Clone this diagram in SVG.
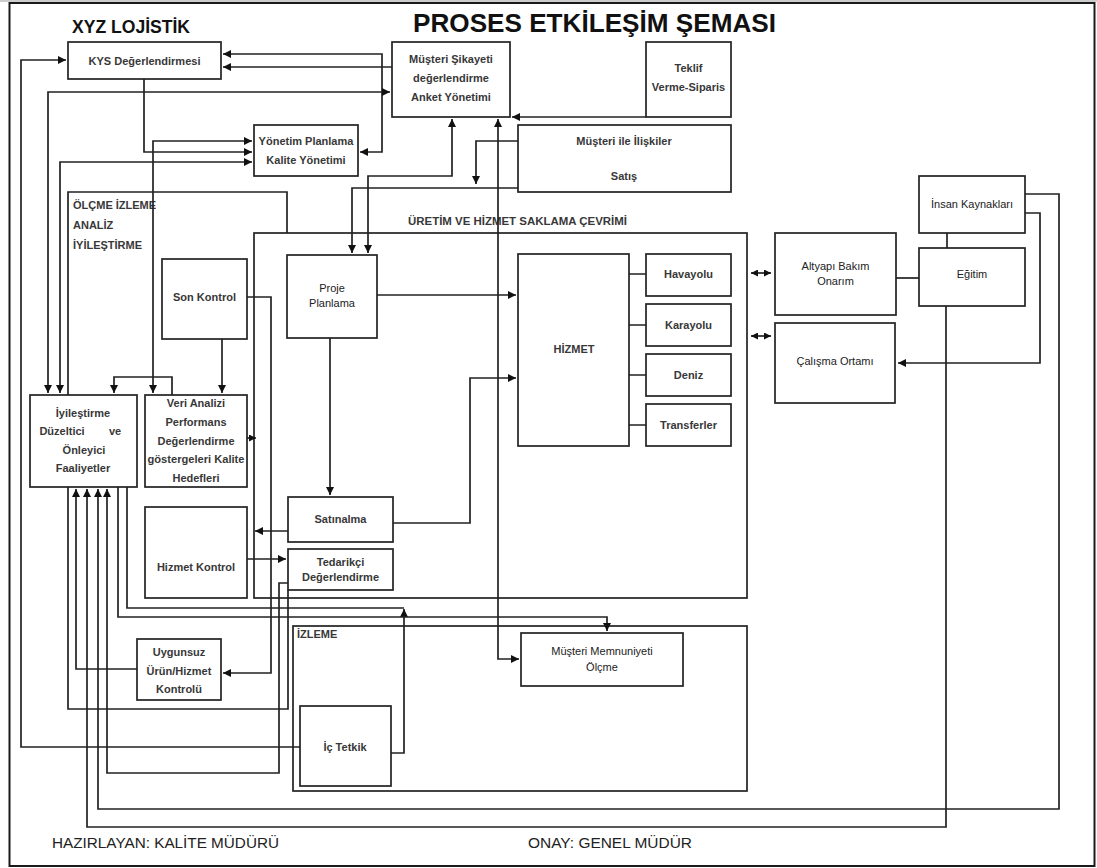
<svg xmlns="http://www.w3.org/2000/svg" width="1097" height="868" viewBox="0 0 1097 868">
  <defs>
    <style>
      .frame{fill:none;stroke:#1a1a1a;stroke-width:2}
      .box{fill:#fff;stroke:#222;stroke-width:1.7}
      .open{fill:none;stroke:#222;stroke-width:1.7}
      .ln{fill:none;stroke:#222;stroke-width:1.7}
      .t{font-family:"Liberation Sans",Arial,sans-serif;font-size:11px;fill:#222;text-anchor:middle}
      .tb{font-family:"Liberation Sans",Arial,sans-serif;font-size:11px;font-weight:bold;fill:#383838;text-anchor:middle}
      .lab{font-family:"Liberation Sans",Arial,sans-serif;font-size:11px;font-weight:bold;fill:#383838}
      .title{font-family:"Liberation Sans",Arial,sans-serif;font-weight:bold;fill:#111}
      .foot{font-family:"Liberation Sans",Arial,sans-serif;font-size:15px;fill:#222}
    </style>
    <marker id="ah" viewBox="0 0 10 10" refX="10" refY="5" markerWidth="9" markerHeight="8" markerUnits="userSpaceOnUse" orient="auto-start-reverse">
      <path d="M0,0 L10,5 L0,10 z" fill="#111"/>
    </marker>
    <marker id="sh" viewBox="0 0 10 10" refX="10" refY="5" markerWidth="7" markerHeight="7" markerUnits="userSpaceOnUse" orient="auto-start-reverse">
      <path d="M0,0 L10,5 L0,10 z" fill="#111"/>
    </marker>
  </defs>

  <rect width="1097" height="868" fill="#fff"/>
  <line x1="0" y1="1" x2="1097" y2="1" stroke="#bbb" stroke-width="1.5"/>
  <rect class="frame" x="9.5" y="3" width="1085" height="863"/>

  <!-- headings -->
  <text class="title" x="413" y="32" font-size="26" textLength="363" lengthAdjust="spacingAndGlyphs">PROSES ETKİLEŞİM ŞEMASI</text>
  <text class="title" x="72" y="33" font-size="19" textLength="118" lengthAdjust="spacingAndGlyphs">XYZ LOJİSTİK</text>

  <!-- grouping outlines -->
  <g id="olcme-izleme">
    <path class="open" d="M68,395 V192 H287 V233"/>
    <text class="lab" x="73" y="209">ÖLÇME İZLEME</text>
    <text class="lab" x="73" y="229">ANALİZ</text>
    <text class="lab" x="73" y="249">İYİLEŞTİRME</text>
  </g>
  <g id="uretim-cevrimi">
    <rect class="open" x="254" y="233" width="493" height="365"/>
    <text class="lab" x="408" y="225" textLength="219" lengthAdjust="spacingAndGlyphs">ÜRETİM VE HİZMET SAKLAMA ÇEVRİMİ</text>
  </g>
  <g id="izleme">
    <rect class="open" x="293" y="626" width="454" height="165"/>
    <text class="lab" x="297" y="638">İZLEME</text>
  </g>

  <!-- connectors -->
  <g id="connectors" class="ln">
    <path d="M300,747 H21 V60 H66" marker-end="url(#ah)"/>
    <path d="M223,54 H382 V152 H360" marker-start="url(#ah)" marker-end="url(#ah)"/>
    <path d="M392,67 H223" marker-end="url(#ah)"/>
    <path d="M48,393 V92 H390" marker-start="url(#ah)" marker-end="url(#ah)"/>
    <path d="M60,393 V162 H252" marker-start="url(#ah)" marker-end="url(#ah)"/>
    <path d="M144,79 V152 H252" marker-end="url(#ah)"/>
    <path d="M153,393 V141 H252" marker-start="url(#ah)" marker-end="url(#ah)"/>
    <path d="M222,339 V393" marker-end="url(#ah)"/>
    <path d="M172,395 V377 H114 V393" marker-end="url(#ah)"/>
    <path d="M247,438 H256" marker-end="url(#sh)"/>
    <path d="M247,297 H271 V673 H223" marker-end="url(#ah)"/>
    <path d="M288,531 H255" marker-end="url(#ah)"/>
    <path d="M247,559 H286" marker-end="url(#ah)"/>
    <path d="M330,338 V495" marker-end="url(#ah)"/>
    <path d="M377,295 H516" marker-end="url(#ah)"/>
    <path d="M393,523 H470 V378 H516" marker-end="url(#ah)"/>
    <path d="M518,188 H352 V253" marker-end="url(#ah)"/>
    <path d="M452,119 V176 H368 V253" marker-start="url(#ah)" marker-end="url(#ah)"/>
    <path d="M518,141 H476 V184" marker-end="url(#ah)"/>
    <path d="M498,119 V659 H519" marker-start="url(#ah)" marker-end="url(#ah)"/>
    <path d="M646,117 H512" marker-end="url(#ah)"/>
    <path d="M751,273 H771" marker-start="url(#sh)" marker-end="url(#sh)"/>
    <path d="M751,336 H771" marker-start="url(#sh)" marker-end="url(#sh)"/>
    <path d="M896,278 H919"/>
    <path d="M947,233 V248"/>
    <path d="M946,306 V827 H87 V489" marker-end="url(#ah)"/>
    <path d="M1025,194 H1059 V809 H98 V489" marker-end="url(#ah)"/>
    <path d="M1025,213 H1040 V363 H898" marker-end="url(#ah)"/>
    <path d="M629,274 H646 M629,325 H646 M629,375 H646 M629,425 H646"/>
    <path d="M288,583 H279 V773 H107 V489" marker-end="url(#ah)"/>
    <path d="M288,590 V709 H68 V487"/>
    <path d="M137,669 H76 V489" marker-end="url(#ah)"/>
    <path d="M127,487 V608 H404"/>
    <path d="M391,753 H404 V609" marker-end="url(#ah)"/>
    <path d="M118,487 V617 H607 V631" marker-end="url(#ah)"/>
  </g>

  <!-- process nodes -->
  <g id="kys">
    <rect class="box" x="68" y="42" width="153" height="37"/>
    <text class="tb" x="144.5" y="65">KYS Değerlendirmesi</text>
  </g>
  <g id="musteri-sikayeti">
    <rect class="box" x="392" y="42" width="118" height="75"/>
    <text class="tb" x="451" y="63">Müşteri Şikayeti</text>
    <text class="tb" x="451" y="82">değerlendirme</text>
    <text class="tb" x="451" y="101">Anket Yönetimi</text>
  </g>
  <g id="teklif">
    <rect class="box" x="646" y="42" width="85" height="75"/>
    <text class="tb" x="688.5" y="72">Teklif</text>
    <text class="tb" x="688.5" y="91">Verme-Siparis</text>
  </g>
  <g id="yonetim">
    <rect class="box" x="254" y="125" width="104" height="51"/>
    <text class="tb" x="306" y="145">Yönetim Planlama</text>
    <text class="tb" x="306" y="164">Kalite Yönetimi</text>
  </g>
  <g id="musteri-iliskiler">
    <rect class="box" x="518" y="125" width="213" height="67"/>
    <text class="tb" x="624" y="145">Müşteri ile İlişkiler</text>
    <text class="tb" x="624" y="180">Satış</text>
  </g>
  <g id="insan-kaynaklari">
    <rect class="box" x="919" y="176" width="106" height="57"/>
    <text class="t" x="972" y="208">İnsan Kaynakları</text>
  </g>
  <g id="egitim">
    <rect class="box" x="919" y="248" width="106" height="58"/>
    <text class="t" x="972" y="278">Eğitim</text>
  </g>
  <g id="altyapi">
    <rect class="box" x="775" y="233" width="121" height="82"/>
    <text class="t" x="835.5" y="270">Altyapı Bakım</text>
    <text class="t" x="835.5" y="285">Onarım</text>
  </g>
  <g id="calisma-ortami">
    <rect class="box" x="775" y="323" width="120" height="80"/>
    <text class="t" x="835" y="365">Çalışma Ortamı</text>
  </g>
  <g id="son-kontrol">
    <rect class="box" x="162" y="259" width="85" height="80"/>
    <text class="tb" x="204.5" y="301">Son Kontrol</text>
  </g>
  <g id="proje">
    <rect class="box" x="287" y="255" width="90" height="83"/>
    <text class="t" x="332" y="292">Proje</text>
    <text class="t" x="332" y="307">Planlama</text>
  </g>
  <g id="hizmet">
    <rect class="box" x="518" y="254" width="111" height="192"/>
    <text class="tb" x="574" y="353">HİZMET</text>
  </g>
  <g id="havayolu">
    <rect class="box" x="646" y="254" width="85" height="42"/>
    <text class="tb" x="688.5" y="278">Havayolu</text>
  </g>
  <g id="karayolu">
    <rect class="box" x="646" y="304" width="85" height="42"/>
    <text class="tb" x="688.5" y="329">Karayolu</text>
  </g>
  <g id="deniz">
    <rect class="box" x="646" y="354" width="85" height="42"/>
    <text class="tb" x="688.5" y="379">Deniz</text>
  </g>
  <g id="transferler">
    <rect class="box" x="646" y="404" width="85" height="42"/>
    <text class="tb" x="688.5" y="429">Transferler</text>
  </g>
  <g id="iyilestirme">
    <rect class="box" x="30" y="395" width="107" height="92"/>
    <text class="tb" x="83" y="417">İyileştirme</text>
    <text class="tb"><tspan x="62" y="435">Düzeltici</tspan><tspan x="115" y="435">ve</tspan></text>
    <text class="tb" x="84" y="454">Önleyici</text>
    <text class="tb" x="83" y="472">Faaliyetler</text>
  </g>
  <g id="veri-analizi">
    <rect class="box" x="145" y="395" width="102" height="92"/>
    <text class="tb" x="196" y="407">Veri Analizi</text>
    <text class="tb" x="196" y="426">Performans</text>
    <text class="tb" x="196" y="445">Değerlendirme</text>
    <text class="tb" x="196" y="463" textLength="97" lengthAdjust="spacingAndGlyphs">göstergeleri Kalite</text>
    <text class="tb" x="196" y="482">Hedefleri</text>
  </g>
  <g id="hizmet-kontrol">
    <rect class="box" x="145" y="507" width="102" height="91"/>
    <text class="tb" x="196" y="571">Hizmet Kontrol</text>
  </g>
  <g id="satinalma">
    <rect class="box" x="288" y="497" width="105" height="45"/>
    <text class="tb" x="340.5" y="523">Satınalma</text>
  </g>
  <g id="tedarikci">
    <rect class="box" x="288" y="549" width="105" height="41"/>
    <text class="tb" x="340.5" y="566">Tedarikçi</text>
    <text class="tb" x="340.5" y="581">Değerlendirme</text>
  </g>
  <g id="uygunsuz">
    <rect class="box" x="137" y="639" width="84" height="61"/>
    <text class="tb" x="179" y="656">Uygunsuz</text>
    <text class="tb" x="179" y="675">Ürün/Hizmet</text>
    <text class="tb" x="179" y="693">Kontrolü</text>
  </g>
  <g id="ic-tetkik">
    <rect class="box" x="300" y="706" width="91" height="80"/>
    <text class="tb" x="345" y="751">İç Tetkik</text>
  </g>
  <g id="musteri-memnuniyeti">
    <rect class="box" x="521" y="633" width="162" height="53"/>
    <text class="t" x="602" y="655">Müşteri Memnuniyeti</text>
    <text class="t" x="602" y="671">Ölçme</text>
  </g>

  <!-- signatures -->
  <text class="foot" x="52" y="848" textLength="227" lengthAdjust="spacingAndGlyphs">HAZIRLAYAN: KALİTE MÜDÜRÜ</text>
  <text class="foot" x="528" y="848" textLength="164" lengthAdjust="spacingAndGlyphs">ONAY: GENEL MÜDÜR</text>
</svg>
